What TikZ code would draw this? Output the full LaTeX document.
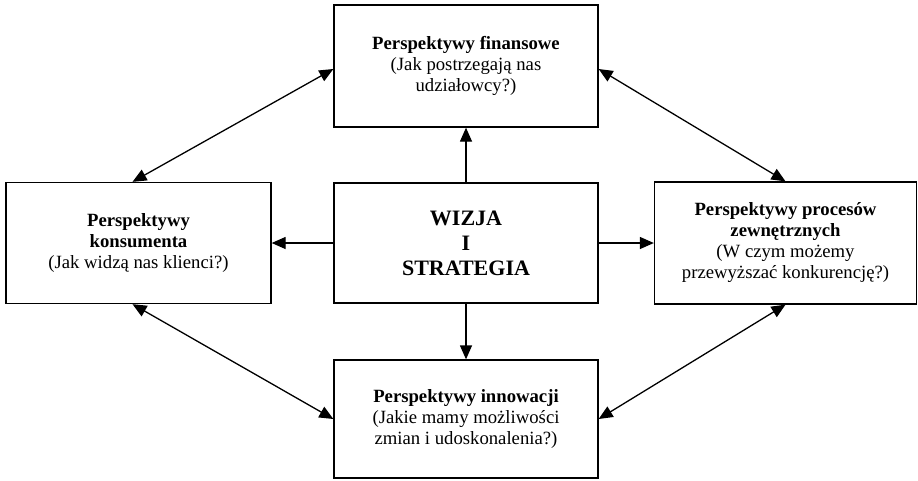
\documentclass[tikz,border=0pt]{standalone}
\usepackage{fontspec}
\setmainfont{Liberation Serif}
\usetikzlibrary{arrows.meta}

\begin{document}
\begin{tikzpicture}[line join=miter,x=1pt,y=-1pt,
  box/.style={draw, line width=1.3pt, rectangle, align=center, inner sep=0pt, font=\fontsize{18.7}{21}\selectfont},
  link/.style={line width=1.3pt, -{Triangle[length=14pt,width=12pt]}},
  twoway/.style={line width=1.3pt, {Triangle[length=14pt,width=12pt]}-{Triangle[length=14pt,width=12pt]}}]
\useasboundingbox (0,0) rectangle (918,480);

\node[box, minimum width=264pt, minimum height=122pt] (fin) at (466, 66)
  {\textbf{Perspektywy finansowe}\\(Jak postrzegają nas\\udziałowcy?)};
\node[box, minimum width=265pt, minimum height=121pt] (kon) at (138.5, 243)
  {\textbf{Perspektywy}\\\textbf{konsumenta}\\(Jak widzą nas klienci?)};
\node[box, minimum width=264pt, minimum height=120pt, font=\fontsize{22}{25}\selectfont] (wiz) at (466, 243)
  {\textbf{WIZJA}\\\textbf{I}\\\textbf{STRATEGIA}};
\node[box, minimum width=262pt, minimum height=122pt] (pro) at (785.5, 243)
  {\textbf{Perspektywy procesów}\\\textbf{zewnętrznych}\\(W czym możemy\\przewyższać konkurencję?)};
\node[box, minimum width=264pt, minimum height=118pt] (inn) at (466, 419)
  {\textbf{Perspektywy innowacji}\\(Jakie mamy możliwości\\zmian i udoskonalenia?)};

% from the vision outwards
\draw[link] (wiz.north) -- (fin.south);
\draw[link] (wiz.south) -- (inn.north);
\draw[link] (wiz.west) -- (kon.east);
\draw[link] (wiz.east) -- (pro.west);

% around the ring
\draw[twoway] ([xshift=-6pt]kon.north) -- ([yshift=-3pt]fin.west);
\draw[twoway] ([yshift=-3pt]fin.east) -- (pro.north);
\draw[twoway] ([xshift=-6pt]kon.south) -- (inn.west);
\draw[twoway] (inn.east) -- (pro.south);
\end{tikzpicture}
\end{document}
